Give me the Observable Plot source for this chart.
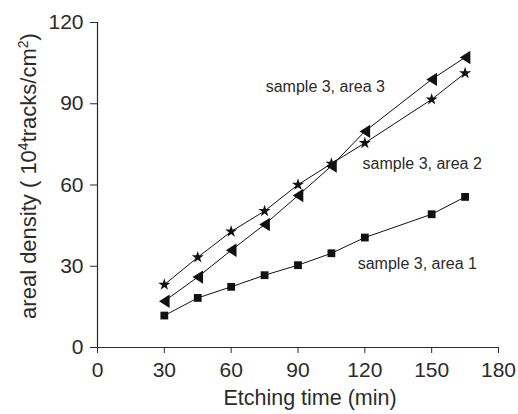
<!DOCTYPE html>
<html>
<head>
<meta charset="utf-8">
<script src="https://cdn.jsdelivr.net/npm/d3@7"></script>
<script src="https://cdn.jsdelivr.net/npm/@observablehq/plot@0.6"></script>
<style>
  html, body { margin: 0; padding: 0; background: #fff; }
  #chart { width: 518px; height: 414px; }
  svg { font-family: "Liberation Sans", Arial, sans-serif; }
</style>
</head>
<body>
<div id="chart"></div>
<script>
const times = [30, 45, 60, 75, 90, 105, 120, 150, 165];
const area1 = [11.8, 18.3, 22.4, 26.7, 30.4, 34.8, 40.6, 49.2, 55.6];
const area2 = [23.2, 33.3, 42.8, 50.4, 60.1, 67.9, 75.5, 91.6, 101.3];
const area3 = [17.1, 26.0, 35.9, 45.4, 56.1, 67.0, 79.8, 99.0, 107.1];
const xTicks = [0, 30, 60, 90, 120, 150, 180];
const yTicks = [0, 30, 60, 90, 120];
const labels = [
  {x: 75.5, y: 96.4, text: "sample 3, area 3"},
  {x: 119, y: 67.9, text: "sample 3, area 2"},
  {x: 116.8, y: 30.7, text: "sample 3, area 1"}
];
const xTitle = "Etching time (min)";

const mk = (vals) => times.map((t, i) => ({t, v: vals[i]}));
const d1 = mk(area1), d2 = mk(area2), d3s = mk(area3);

const triLeft = {
  draw(context, size) {
    const w = Math.sqrt(size) * 0.95, h = Math.sqrt(size) * 1.2;
    context.moveTo(-w / 2, 0);
    context.lineTo(w / 2, -h / 2);
    context.lineTo(w / 2, h / 2);
    context.closePath();
  }
};

const ink = "#2b2b2b";
const ns = "http://www.w3.org/2000/svg";

const plot = Plot.plot({
  width: 518,
  height: 414,
  marginLeft: 97,
  marginRight: 20,
  marginTop: 22,
  marginBottom: 67,
  style: {fontFamily: "Liberation Sans, Arial, sans-serif", fontSize: "20px", color: ink, background: "#fff"},
  x: {domain: [0, 180]},
  y: {domain: [0, 120]},
  marks: [
    Plot.ruleY([0], {stroke: ink, strokeWidth: 1.2}),
    Plot.ruleX([0], {stroke: ink, strokeWidth: 1.2}),
    Plot.axisX({ticks: xTicks, tickSize: 6, tickPadding: 9, fontSize: 21, stroke: ink, fill: ink, label: null}),
    Plot.axisY({ticks: yTicks, tickSize: 7, tickPadding: 7, fontSize: 21, stroke: ink, fill: ink, label: null}),
    Plot.line(d1, {x: "t", y: "v", stroke: "#111", strokeWidth: 1}),
    Plot.line(d2, {x: "t", y: "v", stroke: "#111", strokeWidth: 1}),
    Plot.line(d3s, {x: "t", y: "v", stroke: "#111", strokeWidth: 1}),
    Plot.dot(d1, {x: "t", y: "v", symbol: "square", r: 4.4, fill: "#111", stroke: "none"}),
    Plot.dot(d2, {x: "t", y: "v", symbol: "star", r: 3.8, fill: "#111", stroke: "none"}),
    Plot.dot(d3s, {x: "t", y: "v", symbol: triLeft, r: 6.3, fill: "#111", stroke: "none"}),
    Plot.text(labels, {x: "x", y: "y", text: "text", textAnchor: "start", fontSize: 16, fill: ink}),
    () => {
      const t = document.createElementNS(ns, "text");
      t.setAttribute("x", "310");
      t.setAttribute("y", "405");
      t.setAttribute("text-anchor", "middle");
      t.setAttribute("fill", ink);
      t.setAttribute("font-size", "21.5");
      t.textContent = xTitle;
      return t;
    },
    () => {
      const t = document.createElementNS(ns, "text");
      t.setAttribute("transform", "translate(36,176) rotate(-90)");
      t.setAttribute("text-anchor", "middle");
      t.setAttribute("fill", ink);
      t.setAttribute("font-size", "22");
      const parts = [["areal density ( 10", null], ["4", "sup"], ["tracks/cm", null], ["2", "sup"], [")", null]];
      for (const [s, kind] of parts) {
        const ts = document.createElementNS(ns, "tspan");
        ts.textContent = s;
        if (kind === "sup") { ts.setAttribute("font-size", "14"); ts.setAttribute("dy", "-8"); }
        else if (t.childNodes.length) { ts.setAttribute("dy", "8"); }
        t.appendChild(ts);
      }
      return t;
    }
  ]
});
document.getElementById("chart").appendChild(plot);
</script>
</body>
</html>
